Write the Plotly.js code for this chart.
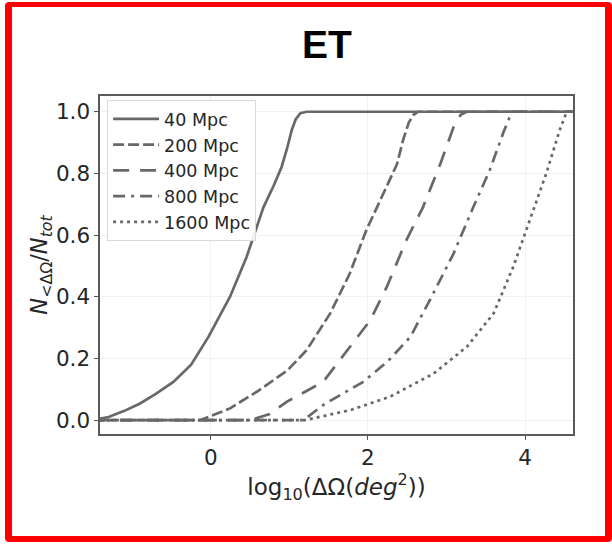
<!DOCTYPE html>
<html>
<head>
<meta charset="utf-8">
<script src="https://cdn.plot.ly/plotly-3.0.1.min.js"></script>
<style>
html,body{margin:0;padding:0;background:#fff;}
#wrap{position:relative;width:612px;height:548px;overflow:hidden;}
#frame{position:absolute;left:5px;top:2px;width:593px;height:529px;border-style:solid;border-color:#ff0000;border-width:5px 7px 6px 7px;border-radius:4px;pointer-events:none;z-index:5;}
#chart{position:absolute;left:0;top:0;width:612px;height:548px;}
</style>
</head>
<body>
<div id="wrap">
<div id="chart"></div>
<div id="frame"></div>
</div>
<script>
// Series names
const seriesNames = ["40 Mpc", "200 Mpc", "400 Mpc", "800 Mpc", "1600 Mpc"];

// x = log10(ΔΩ), y = cumulative fraction
const x40 = [-1.5, -1.3, -1.1, -0.9, -0.7, -0.476, -0.25, -0.03, 0.245, 0.457, 0.67, 0.80, 0.90, 0.97, 1.03, 1.08, 1.14, 1.22, 4.8];
const y40 = [0.0, 0.01, 0.03, 0.054, 0.085, 0.124, 0.18, 0.27, 0.40, 0.53, 0.69, 0.76, 0.82, 0.88, 0.94, 0.975, 0.995, 1.0, 1.0];

const x200 = [-1.5, -0.13, 0.245, 0.585, 0.97, 1.22, 1.52, 1.77, 1.98, 2.20, 2.37, 2.45, 2.52, 2.58, 2.64, 4.8];
const y200 = [0.0, 0.0, 0.038, 0.092, 0.16, 0.227, 0.346, 0.476, 0.616, 0.735, 0.83, 0.91, 0.965, 0.99, 1.0, 1.0];

const x400 = [-1.5, 0.5, 0.75, 0.97, 1.43, 1.77, 2.03, 2.24, 2.49, 2.70, 2.92, 3.09, 3.18, 3.26, 4.8];
const y400 = [0.0, 0.0, 0.02, 0.06, 0.124, 0.238, 0.324, 0.432, 0.584, 0.69, 0.83, 0.95, 0.99, 1.0, 1.0];

const x800 = [-1.5, 1.18, 1.43, 1.94, 2.25, 2.54, 2.79, 3.09, 3.34, 3.55, 3.72, 3.80, 3.85, 4.8];
const y800 = [0.0, 0.0, 0.049, 0.124, 0.19, 0.27, 0.39, 0.54, 0.69, 0.81, 0.93, 0.98, 1.0, 1.0];

const x1600 = [-1.5, 1.2, 1.77, 2.28, 2.83, 3.26, 3.60, 3.85, 4.06, 4.27, 4.44, 4.53, 4.8];
const y1600 = [0.0, 0.0, 0.032, 0.076, 0.15, 0.238, 0.346, 0.497, 0.649, 0.80, 0.94, 1.0, 1.0];

const xTickVals = [0, 2, 4];
const xTickText = ["0", "2", "4"];
const yTickVals = [0.0, 0.2, 0.4, 0.6, 0.8, 1.0];
const yTickText = ["0.0", "0.2", "0.4", "0.6", "0.8", "1.0"];

const xs = [x40, x200, x400, x800, x1600];
const ys = [y40, y200, y400, y800, y1600];
const dashes = ["solid", "11px,4px", "16px,11px", "12px,6px,3px,6px", "3px,4px"];
const lineColor = "#686868";

const traces = seriesNames.map((n, i) => ({
  type: "scatter",
  mode: "lines",
  name: n,
  x: xs[i],
  y: ys[i],
  line: {color: lineColor, width: 2.7, dash: dashes[i]}
}));

const tickFont = {family: "DejaVu Sans", size: 21.5, color: "#262626"};

const layout = {
  width: 612,
  height: 548,
  margin: {l: 100, r: 39, t: 96, b: 114, pad: 0},
  paper_bgcolor: "#ffffff",
  plot_bgcolor: "#ffffff",
  showlegend: true,
  title: {
    text: "<b>ET</b>",
    font: {family: "Liberation Sans", size: 39, color: "#000000"},
    x: 327 / 612, xanchor: "center", xref: "container",
    y: 1 - 44 / 548, yanchor: "middle", yref: "container"
  },
  xaxis: {
    range: [-1.41, 4.61],
    tickvals: xTickVals, ticktext: xTickText,
    ticks: "outside", ticklen: 4, tickwidth: 1, tickcolor: "#555",
    showline: true, linecolor: "#5a5a5a", linewidth: 1.6, mirror: true,
    showgrid: true, gridcolor: "#f0f0f0", gridwidth: 1,
    zeroline: false,
    tickfont: tickFont,
    title: {text: "log<sub>10</sub>(ΔΩ(<i>deg</i><sup>2</sup>))", font: {family: "DejaVu Sans", size: 23, color: "#262626"}, standoff: 6}
  },
  yaxis: {
    range: [-0.045, 1.051],
    tickvals: yTickVals, ticktext: yTickText,
    ticks: "outside", ticklen: 4, tickwidth: 1, tickcolor: "#555",
    showline: true, linecolor: "#5a5a5a", linewidth: 1.6, mirror: true,
    showgrid: true, gridcolor: "#f0f0f0", gridwidth: 1,
    zeroline: false,
    tickfont: tickFont,
    title: {text: "<i>N</i><sub>&lt;ΔΩ</sub>/<i>N</i><sub><i>tot</i></sub>", font: {family: "DejaVu Sans", size: 22.5, color: "#262626"}, standoff: 2}
  },
  legend: {
    x: 0.015, y: 0.988, xanchor: "left", yanchor: "top",
    bgcolor: "rgba(255,255,255,0.9)",
    bordercolor: "#d8d8d8", borderwidth: 1,
    font: {family: "DejaVu Sans", size: 17.5, color: "#262626"},
    tracegroupgap: 0, itemwidth: 46
  }
};

Plotly.newPlot("chart", traces, layout, {displayModeBar: false, staticPlot: true});
</script>
</body>
</html>
